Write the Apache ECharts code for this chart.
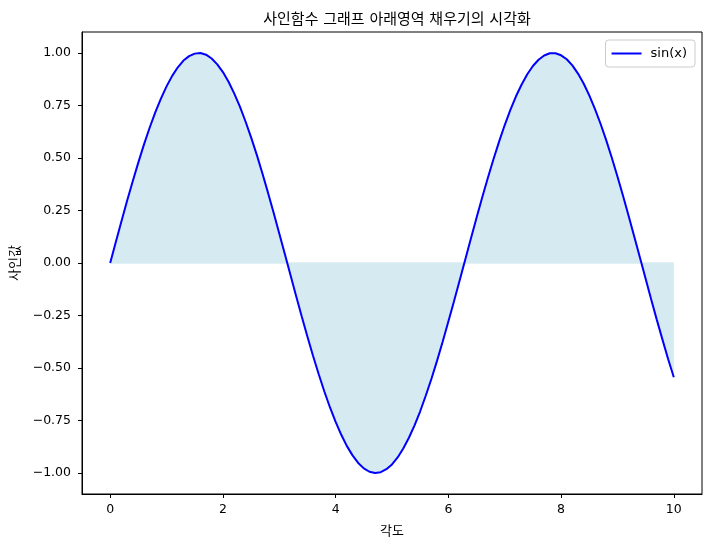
<!DOCTYPE html>
<html>
<head>
<meta charset="utf-8">
<script src="https://cdn.jsdelivr.net/npm/echarts@6/dist/echarts.min.js"></script>
<style>html,body{margin:0;padding:0;background:#fff}#c{width:711px;height:547px}</style>
</head>
<body>
<div id="c"></div>
<script>
const titleText = '사인함수 그래프 아래영역 채우기의 시각화';
const xLabel = '각도';
const yLabel = '사인값';
const seriesName = 'sin(x)';
const xValues = [0.0,0.1,0.2,0.3,0.4,0.5,0.6,0.7,0.8,0.9,1.0,1.1,1.2,1.3,1.4,1.5,1.6,1.7,1.8,1.9,2.0,2.1,2.2,2.3,2.4,2.5,2.6,2.7,2.8,2.9,3.0,3.1,3.2,3.3,3.4,3.5,3.6,3.7,3.8,3.9,4.0,4.1,4.2,4.3,4.4,4.5,4.6,4.7,4.8,4.9,5.0,5.1,5.2,5.3,5.4,5.5,5.6,5.7,5.8,5.9,6.0,6.1,6.2,6.3,6.4,6.5,6.6,6.7,6.8,6.9,7.0,7.1,7.2,7.3,7.4,7.5,7.6,7.7,7.8,7.9,8.0,8.1,8.2,8.3,8.4,8.5,8.6,8.7,8.8,8.9,9.0,9.1,9.2,9.3,9.4,9.5,9.6,9.7,9.8,9.9,10.0];
const yValues = [0,0.0998,0.199,0.296,0.389,0.479,0.565,0.644,0.717,0.783,0.841,0.891,0.932,0.964,0.985,0.997,1.000,0.992,0.974,0.946,0.909,0.863,0.808,0.746,0.675,0.598,0.516,0.427,0.335,0.239,0.141,0.042,-0.058,-0.158,-0.256,-0.351,-0.443,-0.530,-0.612,-0.688,-0.757,-0.818,-0.872,-0.916,-0.952,-0.978,-0.994,-1.000,-0.996,-0.982,-0.959,-0.926,-0.883,-0.832,-0.773,-0.706,-0.631,-0.551,-0.465,-0.374,-0.279,-0.182,-0.083,0.017,0.117,0.215,0.312,0.405,0.494,0.578,0.657,0.729,0.794,0.850,0.899,0.938,0.968,0.988,0.999,0.999,0.989,0.970,0.941,0.902,0.855,0.798,0.734,0.663,0.585,0.501,0.412,0.319,0.223,0.124,0.025,-0.075,-0.175,-0.272,-0.366,-0.458,-0.544];
const xTicks = [0,2,4,6,8,10];
const yTicks = [-1.00,-0.75,-0.50,-0.25,0.00,0.25,0.50,0.75,1.00];
const fillBase = [[0,0],[10,0]];

const chart = echarts.init(document.getElementById('c'), null, {renderer:'canvas'});
const font = 'DejaVu Sans, Noto Sans CJK KR, sans-serif';
const fmtY = v => (v < 0 ? '\u2212' : '') + Math.abs(v).toFixed(2);
chart.setOption({
  animation:false,
  backgroundColor:'#fff',
  title:{text:titleText,left:392,textAlign:'center',top:8,textStyle:{fontFamily:font,fontSize:15,fontWeight:'normal',color:'#000'}},
  legend:{data:[{name:seriesName}],right:16,top:40,orient:'vertical',icon:'rect',itemWidth:30,itemHeight:2,itemGap:6,
    padding:[7,8,7,6],borderColor:'#cccccc',borderWidth:1,borderRadius:3,backgroundColor:'rgba(255,255,255,0.8)',
    textStyle:{fontFamily:font,fontSize:13,color:'#000',padding:[0,0,0,4]}},
  grid:{left:82,right:9,top:32,bottom:53,show:true,borderColor:'#000',borderWidth:1,backgroundColor:'transparent'},
  xAxis:{type:'value',min:-0.5,max:10.5,name:xLabel,nameLocation:'middle',nameGap:31,
    nameTextStyle:{fontFamily:font,fontSize:13,color:'#000'},
    splitLine:{show:false},
    axisLine:{show:true,onZero:false,lineStyle:{color:'#000',width:1}},
    axisTick:{show:true,length:4,lineStyle:{color:'#000'},customValues:xTicks},
    axisLabel:{color:'#000',fontFamily:font,fontSize:12.5,margin:9,customValues:xTicks,formatter:v=>String(v)}},
  yAxis:{type:'value',min:-1.1,max:1.1,name:yLabel,nameLocation:'middle',nameGap:57,nameRotate:90,
    nameTextStyle:{fontFamily:font,fontSize:13,color:'#000'},
    splitLine:{show:false},
    axisLine:{show:true,onZero:false,lineStyle:{color:'#000',width:1}},
    axisTick:{show:true,length:4,lineStyle:{color:'#000'},customValues:yTicks},
    axisLabel:{color:'#000',fontFamily:font,fontSize:12.5,margin:11,customValues:yTicks,formatter:fmtY}},
  series:[
    {type:'line',name:'base',data:fillBase,symbol:'none',silent:true,z:1,
      lineStyle:{color:'#c6e3ec',width:1}},
    {type:'line',name:seriesName,data:xValues.map((x,i)=>[x,yValues[i]]),symbol:'none',smooth:false,z:3,
      lineStyle:{color:'#0000ff',width:2},itemStyle:{color:'#0000ff'},
      areaStyle:{color:'#d5eaf1',opacity:1,origin:0}}
  ]
});
</script>
</body>
</html>
